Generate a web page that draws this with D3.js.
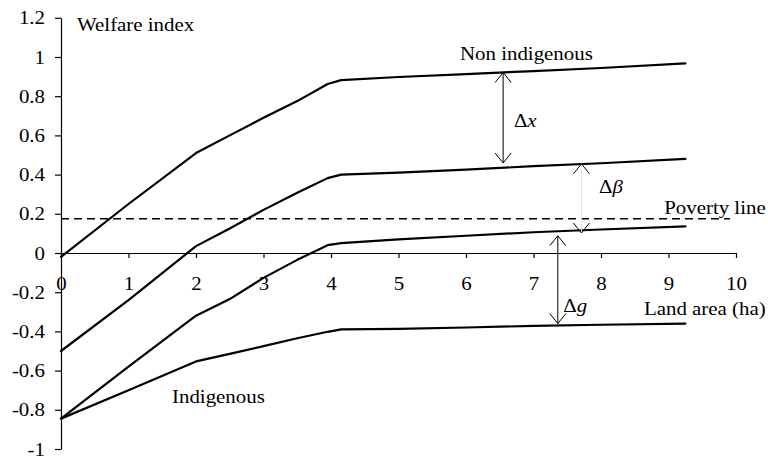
<!DOCTYPE html>
<html>
<head>
<meta charset="utf-8">
<script src="https://cdn.jsdelivr.net/npm/d3@7"></script>
<style>
    body { margin: 0; background: #ffffff; }
    svg { display: block; }
    text { font-family: 'Liberation Serif', 'Times New Roman', serif; fill: #000000; }
</style>
</head>
<body>
<div id="chart"></div>
<script>
// Data
const landArea = [0, 1, 2, 2.5, 3, 3.5, 3.95, 4.15, 5, 6, 7, 8, 9.25]
const nonIndigenous = [-0.02, 0.25, 0.51, 0.6, 0.69, 0.775, 0.862, 0.882, 0.898, 0.913, 0.928, 0.944, 0.967]
const nonIndigenousLow = [-0.5, -0.24, 0.035, 0.125, 0.22, 0.307, 0.382, 0.4, 0.41, 0.425, 0.443, 0.458, 0.48]
const indigenousHigh = [-0.845, -0.58, -0.32, -0.235, -0.127, -0.035, 0.04, 0.05, 0.07, 0.088, 0.106, 0.12, 0.136]
const indigenous = [-0.845, -0.7, -0.553, -0.515, -0.475, -0.435, -0.402, -0.39, -0.387, -0.38, -0.372, -0.366, -0.36]
const allSeries = [nonIndigenous, nonIndigenousLow, indigenousHigh, indigenous]

const povertyLine = 0.175
const povertyLineEnd = 10

// Ticks
const xTicks = [0, 1, 2, 3, 4, 5, 6, 7, 8, 9, 10]
const xTickLabels = ['0', '1', '2', '3', '4', '5', '6', '7', '8', '9', '10']
const yTicks = [-1, -0.8, -0.6, -0.4, -0.2, 0, 0.2, 0.4, 0.6, 0.8, 1, 1.2]
const yTickLabels = ['-1', '-0.8', '-0.6', '-0.4', '-0.2', '0', '0.2', '0.4', '0.6', '0.8', '1', '1.2']

// Gap arrows (x, top tip, bottom tip)
const arrowNames = ['dx', 'dbeta', 'dg']
const arrowX = [6.55, 7.71, 7.36]
const arrowTop = [0.921, 0.455, 0.088]
const arrowBottom = [0.459, 0.102, -0.36]
const arrowShaftColor = ['#000000', '#e6e6e6', '#000000']

// Labels (data units)
const labelTexts = ['Welfare index', 'Non indigenous', 'Indigenous', 'Poverty line', 'Land area (ha)']
const labelX = [0.237, 5.91, 1.644, 10.44, 10.44]
const labelY = [1.133, 0.985, -0.765, 0.199, -0.316]
const labelAnchor = ['start', 'start', 'start', 'end', 'end']

const deltaMain = ['x', '\u03b2', 'g']
const deltaX = [6.71, 7.97, 7.44]
const deltaY = [0.643, 0.306, -0.301]

// Dimensions
const width = 768
const height = 461
const fontSize = 19
const textStretch = 1.1
const lineWidth = 2.2
const headW = 8
const headH = 10

const svg = d3.select('#chart')
    .append('svg')
    .attr('width', width)
    .attr('height', height)

svg.append('rect')
    .attr('width', width)
    .attr('height', height)
    .attr('fill', '#ffffff')

// Scales
const x = d3.scaleLinear().domain([0, 10]).range([61, 736])
const y = d3.scaleLinear().domain([-1, 1.2]).range([449, 17.8])

// Axes
const xAxis = svg.append('g')
    .attr('transform', `translate(0,${y(0)})`)
    .call(d3.axisBottom(x)
        .tickValues(xTicks)
        .tickFormat((d, i) => xTickLabels[i])
        .tickSize(5)
        .tickPadding(18.5)
        .tickSizeOuter(0))

const yAxis = svg.append('g')
    .attr('transform', `translate(${x(0)},0)`)
    .call(d3.axisLeft(y)
        .tickValues(yTicks)
        .tickFormat((d, i) => yTickLabels[i])
        .tickSize(6)
        .tickSizeOuter(0))

svg.selectAll('.domain, .tick line')
    .attr('stroke', '#000000')
    .attr('stroke-width', 1.2)

xAxis.selectAll('text')
    .attr('font-size', fontSize)
    .attr('transform', `scale(${textStretch},1)`)

yAxis.selectAll('text')
    .attr('font-size', fontSize)
    .attr('x', -16 / textStretch)
    .attr('transform', `scale(${textStretch},1)`)

svg.selectAll('.tick text').style('font-family', "'Liberation Serif', 'Times New Roman', serif")

// Poverty line
svg.append('line')
    .attr('x1', x(0))
    .attr('x2', x(povertyLineEnd) - 6)
    .attr('y1', y(povertyLine))
    .attr('y2', y(povertyLine))
    .attr('stroke', '#000000')
    .attr('stroke-width', 1.6)
    .attr('stroke-dasharray', '8,5')

// Curves
const line = d3.line()
    .x((d, i) => x(landArea[i]))
    .y(d => y(d))

svg.selectAll('.curve')
    .data(allSeries)
    .join('path')
    .attr('class', 'curve')
    .attr('d', d => line(d))
    .attr('fill', 'none')
    .attr('stroke', '#000000')
    .attr('stroke-width', lineWidth)
    .attr('stroke-linejoin', 'round')
    .attr('stroke-linecap', 'round')

// Arrows
arrowNames.forEach((name, i) => {
    const ax = x(arrowX[i])
    const yt = y(arrowTop[i])
    const yb = y(arrowBottom[i])
    const g = svg.append('g').attr('class', 'arrow-' + name)
    g.append('line')
        .attr('x1', ax).attr('x2', ax)
        .attr('y1', yt).attr('y2', yb)
        .attr('stroke', arrowShaftColor[i])
        .attr('stroke-width', 1)
    g.append('path')
        .attr('d', `M${ax - headW},${yt + headH}L${ax},${yt}L${ax + headW},${yt + headH}`)
        .attr('fill', 'none')
        .attr('stroke', '#000000')
        .attr('stroke-width', 1)
    g.append('path')
        .attr('d', `M${ax - headW},${yb - headH}L${ax},${yb}L${ax + headW},${yb - headH}`)
        .attr('fill', 'none')
        .attr('stroke', '#000000')
        .attr('stroke-width', 1)
})

// Text labels
labelTexts.forEach((t, i) => {
    svg.append('text')
        .attr('transform', `translate(${x(labelX[i])},${y(labelY[i])}) scale(${textStretch},1)`)
        .attr('text-anchor', labelAnchor[i])
        .attr('font-size', fontSize)
        .text(t)
})

deltaMain.forEach((t, i) => {
    const txt = svg.append('text')
        .attr('transform', `translate(${x(deltaX[i])},${y(deltaY[i])}) scale(${textStretch},1)`)
        .attr('font-size', fontSize)
    txt.append('tspan').text('\u0394')
    txt.append('tspan').attr('font-style', 'italic').text(t)
})
</script>
</body>
</html>
